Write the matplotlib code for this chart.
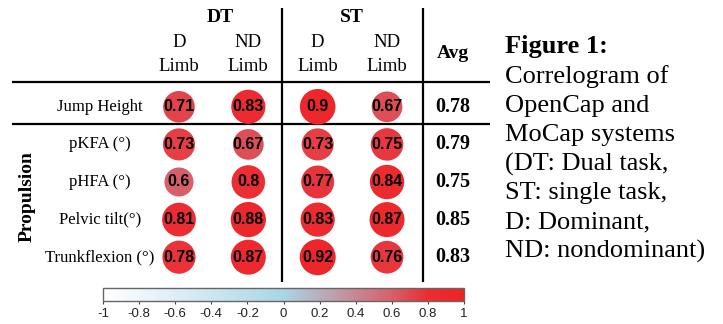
"""Correlograma OpenCap x MoCap (DT/ST, membro D/ND) com média por variável."""

import matplotlib

matplotlib.use("Agg")
import matplotlib.pyplot as plt
import numpy as np
from matplotlib.colors import LinearSegmentedColormap, Normalize
from matplotlib.cm import ScalarMappable

# ---- dados ----
grupos = ["DT", "ST"]
colunas_lado = ["D", "ND", "D", "ND"]
linhas = ["Jump Height", "pKFA (°)", "pHFA (°)", "Pelvic tilt(°)", "Trunkflexion (°)"]
jump_height = [0.71, 0.83, 0.9, 0.67]
pkfa = [0.73, 0.67, 0.73, 0.75]
phfa = [0.6, 0.8, 0.77, 0.84]
pelvic_tilt = [0.81, 0.88, 0.83, 0.87]
trunkflexion = [0.78, 0.87, 0.92, 0.76]
media = [0.78, 0.79, 0.75, 0.85, 0.83]
ticks_cbar = [-1, -0.8, -0.6, -0.4, -0.2, 0, 0.2, 0.4, 0.6, 0.8, 1]

legenda = ["Correlogram of", "OpenCap and", "MoCap systems", "(DT: Dual task,",
           "ST: single task,", "D: Dominant,", "ND: nondominant)"]

SERIF = ["Liberation Serif", "DejaVu Serif"]
SANS = ["Liberation Sans", "DejaVu Sans"]

W, H = 723, 324
fig = plt.figure(figsize=(W / 100, H / 100), dpi=100)

# branco -> azul claro -> vermelho (vermelho satura perto de 0.8)
cmap = LinearSegmentedColormap.from_list(
    "wbr", [(0.0, "white"), (0.5, "#A9D6E6"), (0.8, "#D6606A"),
            (0.9, "#EC2D33"), (1.0, "#EE2222")])
norm = Normalize(-1, 1)

# camada de decoração em pixels
deco = fig.add_axes([0, 0, 1, 1])
deco.set_xlim(0, W)
deco.set_ylim(H, 0)
deco.axis("off")

for y in (82, 124):
    deco.plot([12, 490], [y, y], color="black", lw=1.6, solid_capstyle="butt")
for x in (282, 423):
    deco.plot([x, x], [8, 282], color="black", lw=1.6, solid_capstyle="butt")

deco.text(220, 17, grupos[0], ha="center", va="center", family=SERIF,
          weight="bold", fontsize=14)
deco.text(352, 17, grupos[1], ha="center", va="center", family=SERIF,
          weight="bold", fontsize=14)
deco.text(453, 54, "Avg", ha="center", va="center", family=SERIF,
          weight="bold", fontsize=14)
deco.text(27, 197, "Propulsion", ha="center", va="center", rotation=90,
          family=SERIF, weight="bold", fontsize=14)

deco.text(505, 46, "Figure 1:", ha="left", va="center", family=SERIF,
          weight="bold", fontsize=19)
for k, linha in enumerate(legenda):
    deco.text(505, 77 + 29 * k, linha, ha="left", va="center", family=SERIF,
              fontsize=19)

# matriz de correlação
valores = np.array([jump_height, pkfa, phfa, pelvic_tilt, trunkflexion])
nl, nc = valores.shape
ax = fig.add_axes([144.3 / W, 1 - 276 / H, (421.7 - 144.3) / W, (276 - 88) / H])
ax.set_xlim(-0.5, nc - 0.5)
ax.set_ylim(nl - 0.5, -0.5)
ax.axis("off")

xx, yy = np.meshgrid(np.arange(nc), np.arange(nl))
ax.scatter(xx.ravel(), yy.ravel(), s=730 * np.abs(valores.ravel()),
           c=valores.ravel(), cmap=cmap, norm=norm, edgecolors="none")
for i in range(nl):
    for j in range(nc):
        ax.text(j, i, f"{valores[i, j]:g}", ha="center", va="center",
                family=SANS, weight="bold", fontsize=11.5, color="black")
    ax.text(-1.14, i, linhas[i], ha="center", va="center", family=SERIF,
            fontsize=12, clip_on=False)
    ax.text(3.95, i, f"{media[i]:.2f}", ha="center", va="center", family=SERIF,
            weight="bold", fontsize=14.5, clip_on=False)

for j, lado in enumerate(colunas_lado):
    ax.text(j, -1.71, lado, ha="center", va="center", family=SERIF,
            fontsize=13.5, clip_on=False)
    ax.text(j, -1.07, "Limb", ha="center", va="center", family=SERIF,
            fontsize=13.5, clip_on=False)

# barra de cores
cax = fig.add_axes([103 / W, 1 - 301 / H, (464 - 103) / W, 13 / H])
cb = fig.colorbar(ScalarMappable(norm=norm, cmap=cmap), cax=cax,
                  orientation="horizontal", ticks=ticks_cbar)
cb.ax.set_xticklabels([f"{t:g}" for t in ticks_cbar], family=SANS, fontsize=9.5,
                      color="#222222")
cb.ax.tick_params(length=2.5, width=0.8, color="#444444", pad=2.5)
cb.outline.set_edgecolor("#666666")
cb.outline.set_linewidth(1.0)

fig.savefig("out.png", dpi=100)
